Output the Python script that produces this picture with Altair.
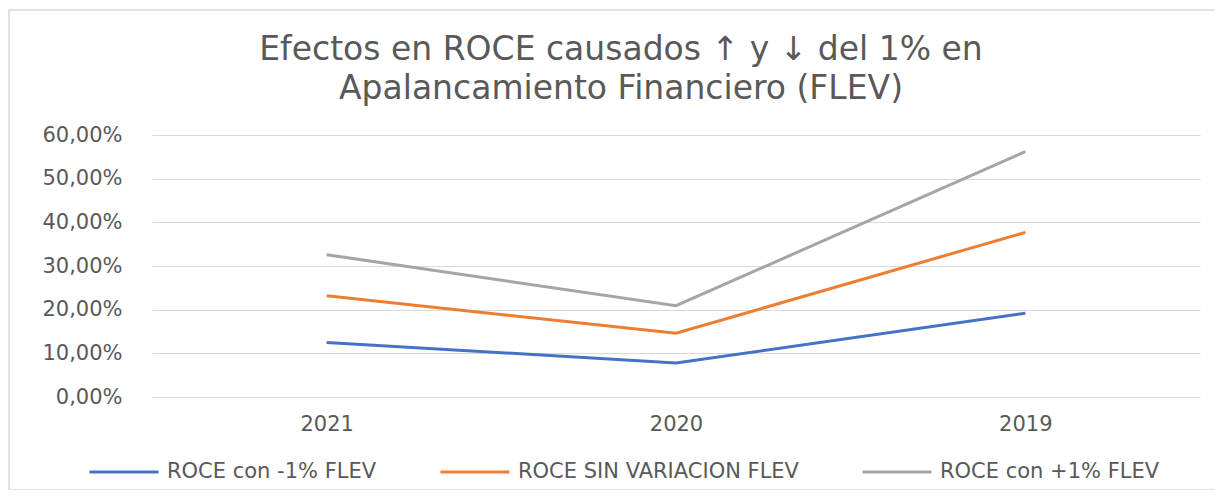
import altair as alt
import pandas as pd

years = ["2021", "2020", "2019"]
series_names = ["ROCE con -1% FLEV", "ROCE SIN VARIACION FLEV", "ROCE con +1% FLEV"]
roce_minus = [0.125, 0.078, 0.192]
roce_base = [0.232, 0.146, 0.377]
roce_plus = [0.326, 0.209, 0.562]
colors = ["#4472C4", "#ED7D31", "#A5A5A5"]
y_ticks = [0.0, 0.1, 0.2, 0.3, 0.4, 0.5, 0.6]
title_lines = ["Efectos en ROCE causados ↑ y ↓ del 1% en", "Apalancamiento Financiero (FLEV)"]

rows = []
for name, vals in zip(series_names, [roce_minus, roce_base, roce_plus]):
    for yr, v in zip(years, vals):
        rows.append({"year": yr, "serie": name, "value": v})
df = pd.DataFrame(rows)

TXT = "#595959"
FONT = "DejaVu Sans"

lines = alt.Chart(df).mark_line(strokeWidth=3).encode(
    x=alt.X("year:N", sort=years,
            scale=alt.Scale(type="point", padding=0.5),
            axis=alt.Axis(title=None, labelAngle=0, domain=False, ticks=False,
                          labelPadding=16, labelFontSize=21, labelColor=TXT,
                          labelFont=FONT, grid=False)),
    y=alt.Y("value:Q",
            scale=alt.Scale(domain=[0, 0.6], nice=False, zero=True),
            axis=alt.Axis(title=None, values=y_ticks,
                          labelExpr="replace(format(datum.value, '.2%'), '.', ',')",
                          domain=False, ticks=False, labelPadding=30,
                          labelFontSize=21, labelColor=TXT, labelFont=FONT,
                          grid=True, gridColor="#D9D9D9", gridWidth=1)),
    color=alt.Color("serie:N", sort=series_names,
                    scale=alt.Scale(domain=series_names, range=colors),
                    legend=alt.Legend(title=None, orient="none", legendX=-64, legendY=301,
                                      direction="horizontal", symbolType="stroke",
                                      symbolSize=4761, symbolStrokeWidth=3,
                                      labelFontSize=21, labelColor=TXT, labelFont=FONT,
                                      labelLimit=0, columnPadding=57, labelOffset=7)),
)

frame = alt.Chart(alt.Data(values=[{}])).mark_rect(
    fill=None, stroke="#D9D9D9", strokeWidth=1.5
).encode(
    x=alt.value(-143), x2=alt.value(1075), y=alt.value(-125), y2=alt.value(355)
)

title1 = alt.Chart(alt.Data(values=[{"t": title_lines[0]}])).mark_text(
    font=FONT, fontSize=33, color=TXT, align="center", baseline="alphabetic"
).encode(text="t:N", x=alt.value(469), y=alt.value(-75))

title2 = alt.Chart(alt.Data(values=[{"t": title_lines[1]}])).mark_text(
    font=FONT, fontSize=33, color=TXT, align="center", baseline="alphabetic"
).encode(text="t:N", x=alt.value(469), y=alt.value(-36))

chart = alt.layer(frame, title1, title2, lines).properties(
    width=1048, height=262,
    background="white",
    autosize=alt.AutoSizeParams(type="none"),
    padding={"left": 144, "top": 127, "right": 15, "bottom": 93},
).configure_view(strokeOpacity=0)

chart.save("out.html", embed_options={"renderer": "svg", "actions": False})
